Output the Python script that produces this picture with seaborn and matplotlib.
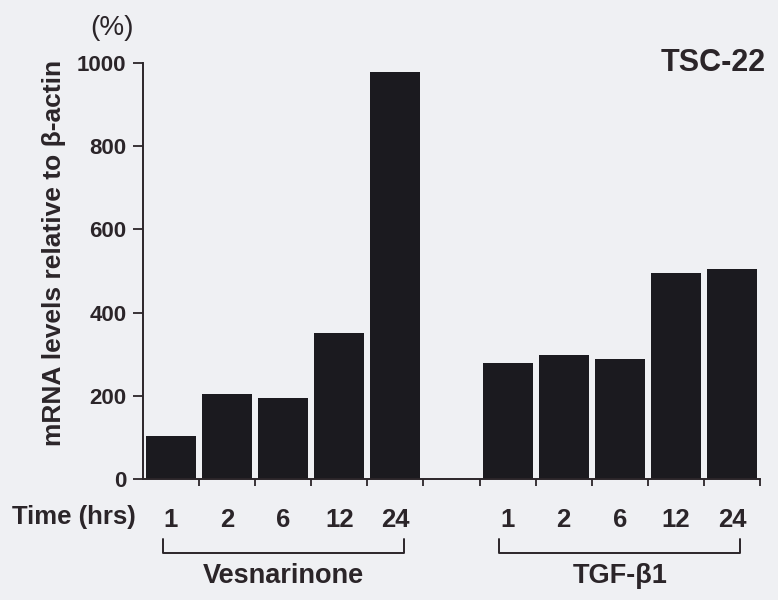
import numpy as np
import pandas as pd
import matplotlib
matplotlib.use("Agg")
import matplotlib.pyplot as plt
import matplotlib.transforms as mtransforms
import seaborn as sns

# Values (mRNA levels relative to beta-actin, %)
times = ["1", "2", "6", "12", "24"]
groups = ["Vesnarinone", "TGF-β1"]
vesnarinone = [104, 205, 195, 352, 978]
tgf_beta1 = [278, 297, 288, 494, 505]
y_ticks = [0, 200, 400, 600, 800, 1000]

BG = "#eff0f3"
INK = "#2b2529"
BAR = "#1b1a1f"

sns.set_theme(style="ticks")
plt.rcParams["font.family"] = ["Liberation Sans", "DejaVu Sans"]

# one slot per bar, with an empty slot between the two treatments
rows = []
for g, vals in zip(groups, [vesnarinone, tgf_beta1]):
    for t, v in zip(times, vals):
        rows.append({"slot": f"{g}|{t}", "group": g, "time": t, "level": v})
df = pd.DataFrame(rows)
order = [f"{groups[0]}|{t}" for t in times] + ["gap"] + [f"{groups[1]}|{t}" for t in times]

fig = plt.figure(figsize=(7.78, 6), dpi=100, facecolor=BG)
ax = fig.add_axes([143 / 778, 1 - 479 / 600, 617 / 778, 416 / 600])
ax.set_facecolor(BG)

sns.barplot(data=df, x="slot", y="level", order=order, color=BAR,
            width=0.89, saturation=1, edgecolor=BAR, linewidth=0, ax=ax)

ax.set_xlim(-0.5, len(order) - 0.5)
ax.set_ylim(0, 1000)
ax.set_yticks(y_ticks)
ax.set_yticklabels([str(v) for v in y_ticks], fontsize=16, fontweight="bold", color=INK)

xlabels = [t for t in times] + [""] + [t for t in times]
ax.set_xticks(range(len(order)))
ax.set_xticklabels(xlabels, fontsize=18.5, fontweight="bold", color=INK)
ax.tick_params(axis="x", which="major", length=0, pad=21)
ax.set_xticks(np.arange(0.5, len(order), 1), minor=True)
ax.tick_params(axis="x", which="minor", length=5, width=1.3, color=INK, direction="out")
ax.tick_params(axis="y", length=7, width=1.3, color=INK, pad=5)

ax.set_xlabel("")
ax.set_ylabel("mRNA levels relative to β-actin", fontsize=19, fontweight="bold",
              color=INK, va="center")
ax.yaxis.set_label_coords((54 - 143) / 617, (479 - 253) / 416)
for side in ["top", "right"]:
    ax.spines[side].set_visible(False)
for side in ["left", "bottom"]:
    ax.spines[side].set_color(INK)
    ax.spines[side].set_linewidth(1.4)

fig.text(12 / 778, 1 - 517 / 600, "Time (hrs)", fontsize=18.5, fontweight="bold",
         color=INK, ha="left", va="center")
fig.text(112 / 778, 1 - 28 / 600, "(%)", fontsize=20, color=INK, ha="center", va="center")
fig.text(713 / 778, 1 - 63 / 600, "TSC-22", fontsize=22, fontweight="bold",
         color=INK, ha="center", va="center")

# brackets under each treatment group
trans = mtransforms.blended_transform_factory(ax.transData, fig.transFigure)
y_top = 1 - 539 / 600
y_bot = 1 - 553 / 600
for gi, g in enumerate(groups):
    first = order.index(f"{g}|{times[0]}")
    last = order.index(f"{g}|{times[-1]}")
    x0, x1 = first - 0.15, last + 0.15
    ax.plot([x0, x0, x1, x1], [y_top, y_bot, y_bot, y_top], color=INK, lw=1.4,
            transform=trans, clip_on=False)
    ax.text((first + last) / 2, 1 - 576 / 600, g, transform=trans, fontsize=19.5,
            fontweight="bold", color=INK, ha="center", va="center")

fig.savefig("out.png", dpi=100, facecolor=BG)
